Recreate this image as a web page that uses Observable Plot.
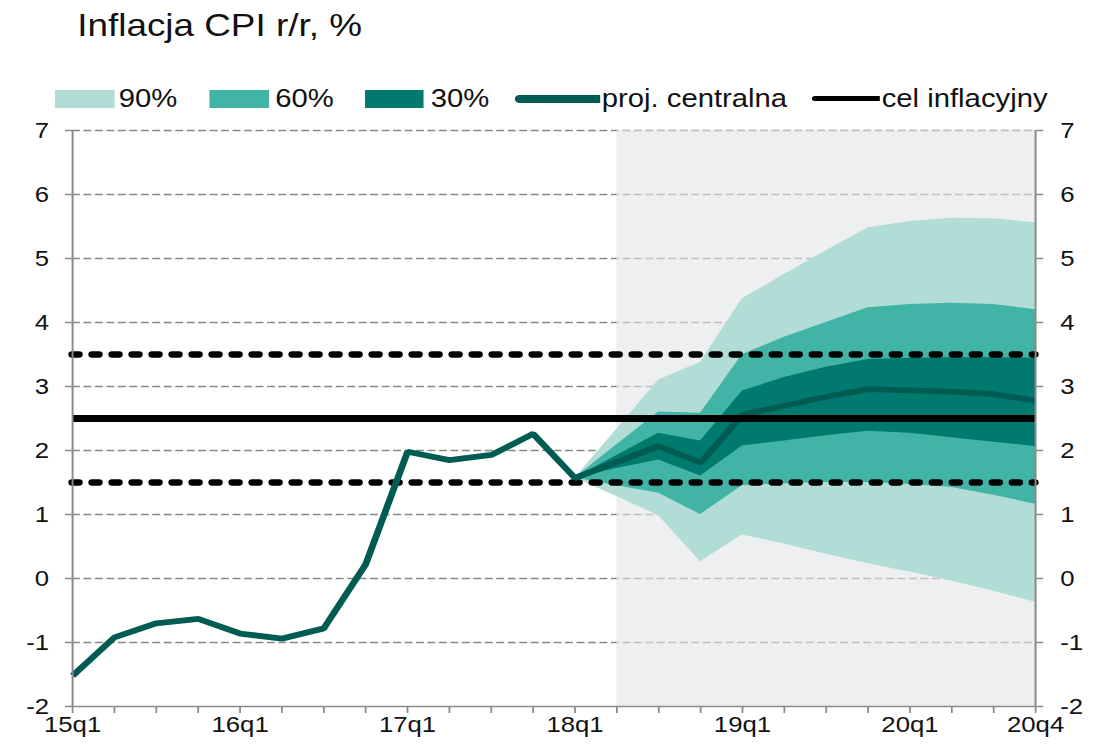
<!DOCTYPE html>
<html>
<head>
<meta charset="utf-8">
<script src="https://cdn.jsdelivr.net/npm/d3@7"></script>
<script src="https://cdn.jsdelivr.net/npm/@observablehq/plot@0.6"></script>
<style>
  html, body { margin: 0; padding: 0; background: #fff; }
  body { width: 1106px; height: 747px; overflow: hidden; position: relative; font-family: "Liberation Sans", Arial, sans-serif; color: #111; }
  #wrap { position: absolute; left: 0; top: 0; width: 945.3px; height: 747px; transform: scaleX(1.17); transform-origin: 0 0; }
  #title { position: absolute; left: 66px; top: 9.5px; font-size: 31.5px; line-height: 1; white-space: nowrap; }
  .lg { position: absolute; }
  .lgt { position: absolute; top: 85.5px; font-size: 25px; line-height: 1; white-space: nowrap; }
  #chart { position: absolute; left: 0; top: 115px; width: 945.3px; height: 632px; }
  #chart svg { max-width: none; }
</style>
</head>
<body>
<div id="wrap">
  <div id="title">Inflacja CPI r/r, %</div>
  <div id="legend"></div>
  <div id="chart"></div>
</div>
<script>
// ---------- data ----------
const quarters = ["15q1","15q2","15q3","15q4","16q1","16q2","16q3","16q4",
                  "17q1","17q2","17q3","17q4","18q1","18q2","18q3","18q4",
                  "19q1","19q2","19q3","19q4","20q1","20q2","20q3","20q4"];
const shownLabels = ["15q1","16q1","17q1","18q1","19q1","20q1","20q4"];
const yTicks = [-2,-1,0,1,2,3,4,5,6,7];

// historical CPI 15q1..18q1
const cpiHist = [-1.52,-0.92,-0.70,-0.63,-0.86,-0.94,-0.78,0.22,1.98,1.85,1.93,2.26,1.57];
// projection 18q1..20q4
const projQuarters = ["18q1","18q2","18q3","18q4","19q1","19q2","19q3","19q4","20q1","20q2","20q3","20q4"];
const central = [1.57,1.82,2.07,1.81,2.56,2.70,2.84,2.96,2.94,2.92,2.88,2.78];
const lo30 = [1.57,1.72,1.85,1.60,2.07,2.15,2.23,2.30,2.27,2.20,2.13,2.06];
const hi30 = [1.57,1.92,2.27,2.15,2.93,3.14,3.30,3.42,3.44,3.45,3.45,3.44];
const lo60 = [1.57,1.45,1.33,1.00,1.45,1.48,1.50,1.50,1.47,1.42,1.30,1.16];
const hi60 = [1.57,2.09,2.60,2.58,3.50,3.77,4.00,4.23,4.28,4.30,4.28,4.20];
const lo90 = [1.57,1.28,0.98,0.26,0.68,0.54,0.38,0.23,0.10,-0.04,-0.20,-0.37];
const hi90 = [1.57,2.33,3.10,3.38,4.37,4.75,5.12,5.48,5.58,5.63,5.62,5.56];

const target = 2.5;
const targetBand = [1.5, 3.5];
const shadeStart = "18q2";

const colors = { c90: "#b2ddd6", c60: "#42b4a6", c30: "#007a6e", central: "#005c52", target: "#000" };
const legendItems = [
  {label: "90%", kind: "box", color: colors.c90, x: 46.8, w: 51.3, tx: 101.5},
  {label: "60%", kind: "box", color: colors.c60, x: 178.9, w: 51.3, tx: 235.3},
  {label: "30%", kind: "box", color: colors.c30, x: 312, w: 50.4, tx: 368.1},
  {label: "proj. centralna", kind: "line", color: colors.central, x: 440.2, w: 72.6, tx: 514.3, h: 8},
  {label: "cel inflacyjny", kind: "line", color: colors.target, x: 693.8, w: 58.3, tx: 753.6, h: 5}
];

// ---------- build tables ----------
const S = 1.17;
const W = 1106 / S;
const idx = q => quarters.indexOf(q);
const lineData = cpiHist.map((v, i) => ({i, v}))
  .concat(central.slice(1).map((v, k) => ({i: idx(projQuarters[k + 1]), v})));
const fan = projQuarters.map((q, k) => ({
  i: idx(q), lo90: lo90[k], hi90: hi90[k], lo60: lo60[k], hi60: hi60[k], lo30: lo30[k], hi30: hi30[k]
}));
const shade = [{x1: idx(shadeStart), x2: quarters.length - 1, y1: d3.min(yTicks), y2: d3.max(yTicks)}];

// ---------- legend ----------
const lg = document.getElementById("legend");
for (const it of legendItems) {
  const d = document.createElement("div");
  d.className = "lg";
  d.style.left = it.x + "px";
  d.style.width = it.w + "px";
  d.style.background = it.color;
  if (it.kind === "box") { d.style.top = "90px"; d.style.height = "17.5px"; }
  else { d.style.top = (98.5 - it.h / 2) + "px"; d.style.height = it.h + "px"; d.style.borderRadius = (it.h/2) + "px 0 0 " + (it.h/2) + "px"; }
  lg.appendChild(d);
  const t = document.createElement("div");
  t.className = "lgt";
  t.style.left = it.tx + "px";
  t.textContent = it.label;
  lg.appendChild(t);
}

// ---------- chart ----------
const axisGrey = "#8a8a8a";
const yFmt = d => String(d);
try {
const chart = Plot.plot({
  width: W,
  height: 632,
  marginLeft: 72 / S,
  marginRight: 71 / S,
  marginTop: 15,
  marginBottom: 41,
  style: {fontFamily: "'Liberation Sans', Arial, sans-serif", fontSize: "22px", color: "#111", background: "#fff", overflow: "visible", maxWidth: "none"},
  x: {domain: [0, quarters.length - 1], label: null},
  y: {domain: [d3.min(yTicks), d3.max(yTicks)], label: null},
  marks: [
    Plot.ruleY(yTicks.slice(1), {stroke: "#888", strokeWidth: 1.3, strokeDasharray: "6.8,3"}),
    Plot.rect(shade, {x1: "x1", x2: "x2", y1: "y1", y2: "y2", fill: "#e3e5e8", fillOpacity: 0.6}),
    Plot.areaY(fan, {x: "i", y1: "lo90", y2: "hi90", fill: colors.c90}),
    Plot.areaY(fan, {x: "i", y1: "lo60", y2: "hi60", fill: colors.c60}),
    Plot.areaY(fan, {x: "i", y1: "lo30", y2: "hi30", fill: colors.c30}),
    Plot.ruleY(targetBand, {stroke: "#000", strokeWidth: 6.3, strokeDasharray: "6,11.1", strokeLinecap: "round"}),
    Plot.line(lineData, {x: "i", y: "v", stroke: colors.central, strokeWidth: 5.8, strokeLinejoin: "miter", strokeLinecap: "butt"}),
    Plot.ruleY([target], {stroke: colors.target, strokeWidth: 7}),
    Plot.ruleX([0, quarters.length - 1], {stroke: axisGrey, strokeWidth: 1.7}),
    Plot.ruleY([d3.min(yTicks)], {stroke: axisGrey, strokeWidth: 1.7}),
    Plot.axisY({anchor: "left", ticks: yTicks, tickFormat: yFmt, tickSize: 6, tickPadding: 14, stroke: axisGrey, fill: "#111", strokeWidth: 1.5, label: null}),
    Plot.axisY({anchor: "right", ticks: yTicks, tickFormat: yFmt, tickSize: 6, tickPadding: 15, stroke: axisGrey, fill: "#111", strokeWidth: 1.5, label: null}),
    Plot.axisX({ticks: d3.range(quarters.length), tickSize: 7, tickPadding: 3, stroke: axisGrey, fill: "#111", strokeWidth: 1.5, label: null,
                tickFormat: i => shownLabels.includes(quarters[i]) ? quarters[i] : ""})
  ]
});
document.getElementById("chart").appendChild(chart);
} catch (e) {
  const p = document.createElement("pre"); p.textContent = String(e && e.stack || e);
  p.style.cssText = "position:absolute;top:150px;left:20px;font-size:12px;color:red";
  document.getElementById("chart").appendChild(p);
}
</script>
</body>
</html>
